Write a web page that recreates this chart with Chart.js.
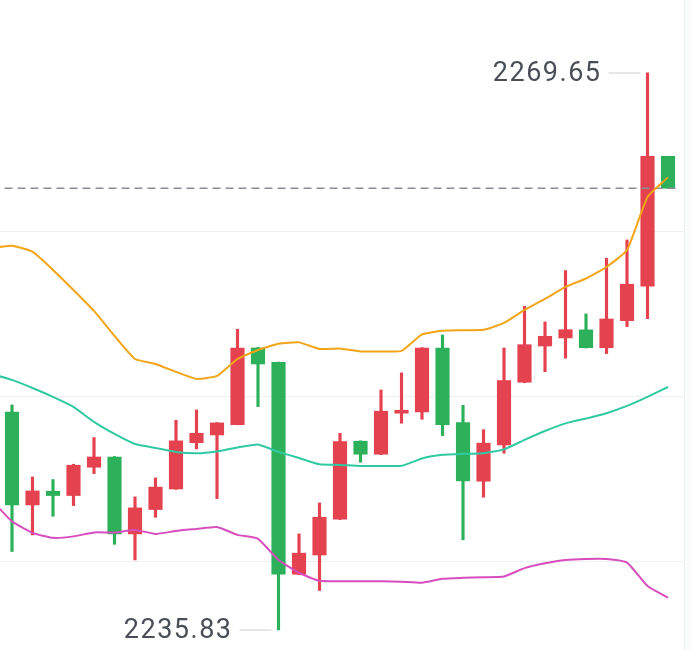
<!DOCTYPE html>
<html>
<head>
<meta charset="utf-8">
<script src="https://cdn.jsdelivr.net/npm/chart.js@4.4.0/dist/chart.umd.min.js"></script>
<style>
  html, body { margin: 0; padding: 0; background: #fff; }
  #wrap { position: relative; width: 692px; height: 650px; }
</style>
</head>
<body>
<div id="wrap"><canvas id="kline" width="692" height="650"></canvas></div>
<script>
'use strict';

// K 线数据（按时间顺序）
var opens  = [2249.05, 2243.42, 2244.25, 2243.99, 2245.71, 2246.33, 2241.66, 2243.14, 2244.39, 2247.20, 2247.67,
              2248.30, 2252.95, 2252.08, 2239.21, 2240.38, 2242.55, 2247.29, 2246.50, 2248.99, 2249.07, 2252.95,
              2248.42, 2244.86, 2247.06, 2250.87, 2253.07, 2253.56, 2254.05, 2252.97, 2254.61, 2256.70, 2264.59];
var highs  = [2249.49, 2245.12, 2244.96, 2245.89, 2247.51, 2246.36, 2243.91, 2245.06, 2248.56, 2249.19, 2248.42,
              2254.09, 2252.98, 2252.10, 2241.66, 2243.54, 2247.77, 2247.31, 2250.40, 2251.44, 2252.97, 2253.74,
              2249.47, 2247.99, 2252.95, 2255.48, 2254.53, 2257.65, 2255.02, 2258.40, 2259.51, 2269.65, 2264.59];
var lows   = [2240.59, 2241.60, 2242.73, 2243.38, 2245.32, 2241.03, 2240.08, 2242.67, 2244.36, 2246.82, 2243.80,
              2248.28, 2249.39, 2235.83, 2239.19, 2238.22, 2242.53, 2246.01, 2246.48, 2248.38, 2248.62, 2247.63,
              2241.30, 2243.89, 2246.56, 2250.84, 2251.51, 2252.33, 2252.95, 2252.61, 2254.25, 2254.73, 2262.63];
var closes = [2243.42, 2244.27, 2243.99, 2245.83, 2246.33, 2241.66, 2243.24, 2244.50, 2247.31, 2247.77, 2248.40,
              2252.95, 2251.98, 2239.21, 2240.49, 2242.67, 2247.26, 2246.50, 2249.11, 2249.17, 2252.95, 2248.30,
              2244.88, 2247.17, 2250.97, 2253.15, 2253.66, 2254.06, 2252.97, 2254.71, 2256.82, 2264.59, 2262.65];

// 布林带（从前一根 K 线开始，索引 -1）
var bandStart = -1;
var upperBand = [2259.02, 2259.16, 2258.80, 2257.69, 2256.47, 2255.20, 2253.68, 2252.28, 2251.98, 2251.50, 2251.07,
                 2251.25, 2252.28, 2252.83, 2253.20, 2253.29, 2252.89, 2252.92, 2252.74, 2252.74, 2252.77, 2253.77,
                 2254.00, 2254.03, 2254.05, 2254.47, 2255.26, 2255.93, 2256.66, 2257.17, 2257.87, 2258.90, 2262.12, 2263.31];
var midBand   = [2251.37, 2251.01, 2250.52, 2249.98, 2249.37, 2248.46, 2247.73, 2247.12, 2246.88, 2246.64, 2246.56,
                 2246.67, 2246.91, 2247.09, 2246.64, 2246.27, 2245.89, 2245.85, 2245.79, 2245.79, 2245.79, 2246.24,
                 2246.46, 2246.52, 2246.56, 2246.79, 2247.37, 2247.91, 2248.37, 2248.67, 2248.99, 2249.43, 2249.98, 2250.58];
var lowerBand = [2243.72, 2242.42, 2241.72, 2241.42, 2241.51, 2241.75, 2241.75, 2241.90, 2241.66, 2241.84, 2241.96,
                 2242.08, 2241.60, 2241.36, 2240.08, 2239.29, 2238.81, 2238.78, 2238.78, 2238.78, 2238.76, 2238.70,
                 2238.93, 2238.99, 2239.03, 2239.07, 2239.58, 2239.88, 2240.08, 2240.14, 2240.14, 2239.92, 2238.50, 2237.79];

var gridTicks = [2240, 2250, 2260];
var lastPrice = 2262.65;

var UP_COLOR = '#E5424F';
var DOWN_COLOR = '#2DB05A';

function candleColors() {
  return opens.map(function (o, i) { return closes[i] >= o ? UP_COLOR : DOWN_COLOR; });
}

function bandPoints(arr) {
  return arr.map(function (v, i) { return { x: i + bandStart, y: v }; });
}

function lineDataset(arr, color) {
  return {
    type: 'line',
    data: bandPoints(arr),
    borderColor: color,
    borderWidth: 2,
    pointRadius: 0,
    tension: 0.15,
    order: 0
  };
}

/** 最高 / 最低价标注 */
var extremeLabels = {
  id: 'extremeLabels',
  afterDatasetsDraw: function (chart) {
    var ctx = chart.ctx;
    var xs = chart.scales.x, ys = chart.scales.y;
    var hiIdx = highs.indexOf(Math.max.apply(null, highs));
    var loIdx = lows.indexOf(Math.min.apply(null, lows));
    var marks = [
      { i: hiIdx, v: highs[hiIdx] },
      { i: loIdx, v: lows[loIdx] }
    ];
    ctx.save();
    marks.forEach(function (m) {
      var px = xs.getPixelForValue(m.i);
      var py = ys.getPixelForValue(m.v);
      ctx.strokeStyle = '#dcdee1';
      ctx.lineWidth = 1.5;
      ctx.beginPath();
      ctx.moveTo(px - 39, py);
      ctx.lineTo(px - 7, py);
      ctx.stroke();
      ctx.fillStyle = '#4a4f57';
      ctx.font = '27px Roboto, "Noto Sans", sans-serif';
      ctx.letterSpacing = '1.5px';
      ctx.textAlign = 'right';
      ctx.textBaseline = 'middle';
      ctx.fillText(m.v.toFixed(2), px - 46, py + 1);
    });
    // 右侧边框
    ctx.fillStyle = '#fafbfb';
    ctx.fillRect(chart.chartArea.right, 0, chart.width - chart.chartArea.right, chart.height);
    ctx.strokeStyle = '#eceef0';
    ctx.lineWidth = 1;
    ctx.beginPath();
    ctx.moveTo(chart.chartArea.right + 0.5, 0);
    ctx.lineTo(chart.chartArea.right + 0.5, chart.height);
    ctx.stroke();
    ctx.restore();
  }
};

var colors = candleColors();

new Chart(document.getElementById('kline'), {
  type: 'bar',
  data: {
    datasets: [
      lineDataset(upperBand, '#F2A516'),
      lineDataset(midBand, '#30C9A4'),
      lineDataset(lowerBand, '#D84DBE'),
      {
        type: 'line',
        data: [{ x: -1, y: lastPrice }, { x: 32.5, y: lastPrice }],
        borderColor: '#8a8d93',
        borderWidth: 1.5,
        borderDash: [8, 5],
        pointRadius: 0,
        order: 0
      },
      {
        data: opens.map(function (o, i) { return { x: i, y: [o, closes[i]] }; }),
        backgroundColor: colors,
        barThickness: 13.5,
        grouped: false,
        order: 1
      },
      {
        data: lows.map(function (l, i) { return { x: i, y: [l, highs[i]] }; }),
        backgroundColor: colors,
        barThickness: 2.5,
        grouped: false,
        order: 2
      }
    ]
  },
  options: {
    responsive: false,
    animation: false,
    layout: { padding: { left: 0, right: 8, top: 0, bottom: 0 } },
    plugins: { legend: { display: false }, tooltip: { enabled: false } },
    scales: {
      x: { type: 'linear', min: -0.585, max: 32.78, offset: false, display: false },
      y: {
        min: 2234.61,
        max: 2274.08,
        ticks: { display: false },
        border: { display: false },
        grid: { drawTicks: false, color: '#eef0f2', lineWidth: 1 },
        afterBuildTicks: function (scale) {
          scale.ticks = gridTicks.map(function (v) { return { value: v }; });
        }
      }
    }
  },
  plugins: [extremeLabels]
});
</script>
</body>
</html>
